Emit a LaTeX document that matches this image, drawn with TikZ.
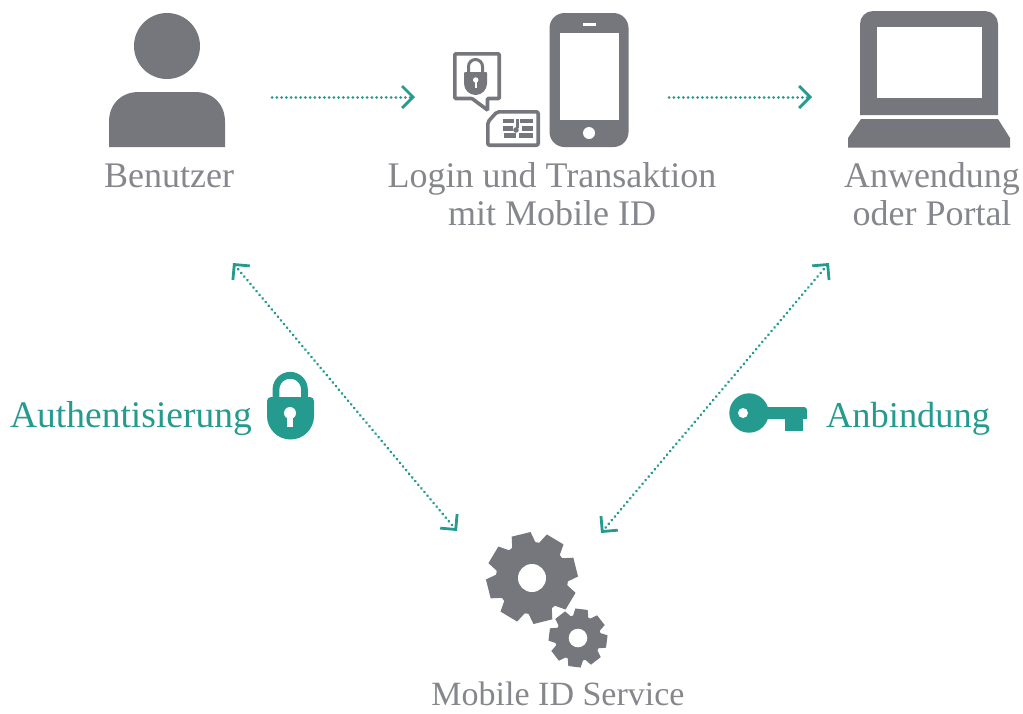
\documentclass[tikz,border=0pt]{standalone}
\usepackage{fontspec}
\setmainfont{Liberation Serif}
\usetikzlibrary{arrows.meta}
\definecolor{icongray}{HTML}{75777C}
\definecolor{textgray}{HTML}{85878C}
\definecolor{tealgreen}{HTML}{259A8E}
\tikzset{
  caption/.style={text=textgray, font=\fontsize{36}{38}\selectfont, inner sep=0pt, align=center},
  tealcaption/.style={text=tealgreen, font=\fontsize{37.5}{38}\selectfont, inner sep=0pt},
  dotline/.style={tealgreen, line width=3pt, line cap=round, dash pattern=on 0.01pt off 4.75pt},
  onearrow/.style={dotline, -{Straight Barb[length=11pt,width=22pt,line width=2.8pt,line cap=butt]}},
  bothways/.style={dotline, {Straight Barb[length=11pt,width=22pt,line width=2.8pt,line cap=butt]}-{Straight Barb[length=11pt,width=22pt,line width=2.8pt,line cap=butt]}},
  pics/gearwheel/.style n args={4}{code={
    \fill[icongray] (0,0) circle (#2);
    \foreach \ang in {0,45,...,315}
      \fill[icongray, rotate=\ang+#1] (0.9*#2,-0.34*#2) -- (#3,-0.27*#2) -- (#3,0.27*#2) -- (0.9*#2,0.34*#2) -- cycle;
    \fill[white] (0,0) circle (#4);
  }}
}
\begin{document}
\begin{tikzpicture}[x=1pt,y=-1pt]
  \useasboundingbox (0,0) rectangle (1023,713);
  % user
  \fill[icongray] (167,46) circle (33);
  \fill[icongray] (109,147) -- (109,122) .. controls (109,104) and (121,92) .. (139,92) -- (195,92) .. controls (213,92) and (225,104) .. (225,122) -- (225,147) -- cycle;
  \node[caption, anchor=base] (user) at (169,187) {Benutzer};
  % phone
  \fill[icongray, rounded corners=15pt] (549.5,13) rectangle (628.5,147);
  \fill[white] (560,33) rectangle (619,120);
  \fill[white] (583,23) rectangle (596,26);
  \fill[white] (589,133) circle (6);
  % speech bubble
  \draw[icongray, line width=3.6pt, rounded corners=1pt] (454.8,53.8) -- (499.2,53.8) -- (499.2,98.5) -- (487.5,98.5) -- (487.5,110) -- (472,98.5) -- (454.8,98.5) -- cycle;
  \draw[icongray, line width=3pt] (468.5,73) -- (468.5,66.5) arc (180:360:7) -- (482.5,73);
  \fill[icongray] (464,83.5) [rounded corners=1pt] -- (464,72) -- (487,72) [sharp corners] -- (487,83.5) arc (0:180:11.5) -- cycle;
  \fill[white] (475.7,80) circle (2.7);
  \fill[white] (474.7,80) rectangle (476.7,88);
  % sim card
  \draw[icongray, line width=3.6pt, rounded corners=2pt] (497,111.8) -- (538.2,111.8) -- (538.2,145.2) -- (487.8,145.2) -- (487.8,122) -- cycle;
  \foreach \xa/\ya/\xb/\yb in {503/118.5/514/123, 503/125.7/513/131, 504/133/516/138, 520/118.5/533/123, 522/125.7/533/131, 519/133/533/138}
    \fill[icongray] (\xa,\ya) rectangle (\xb,\yb);
  \fill[icongray] (516,118.5) rectangle (518.5,128);
  \fill[icongray] (516,130) circle (2.8);
  \node[caption] (login) at (552,194.5) {Login und Transaktion\\mit Mobile ID};
  % laptop
  \fill[icongray] (860,115) [rounded corners=13pt] -- (860,11) -- (998,11) [sharp corners] -- (998,115) -- cycle;
  \fill[icongray] (861,119) -- (998,119) -- (1010,138) -- (1010,147.5) -- (848,147.5) -- (848,138) -- cycle;
  \fill[white] (877,27) rectangle (982,98);
  \node[caption] (portal) at (932,194.5) {Anwendung\\oder Portal};
  % gears
  \pic at (532,578) {gearwheel={14}{36}{45}{14}};
  \pic at (578,638) {gearwheel={-7}{23}{29}{9.3}};
  \node[caption, anchor=base, font=\fontsize{34}{38}\selectfont] (service) at (558,705) {Mobile ID Service};
  % lock
  \draw[tealgreen, line width=6.8pt] (276,400) -- (276,389.5) arc (180:360:14.2) -- (304.4,400);
  \fill[tealgreen] (267,416) [rounded corners=4pt] -- (267,397) -- (314,397) [sharp corners] -- (314,416) arc (0:180:23.5) -- cycle;
  \fill[white] (290,413) circle (6);
  \fill[white] (287,413) rectangle (293,427);
  \node[tealcaption, anchor=base east] (auth) at (252,427) {Authentisierung};
  % key
  \fill[tealgreen] (749,413) circle (19.7);
  \fill[tealgreen] (760,419) -- (760,407) [rounded corners=3pt] -- (807,407) [sharp corners] -- (807,419) -- cycle;
  \fill[tealgreen] (785,415) rectangle (803,431);
  \fill[white] (743,413) circle (5);
  \node[tealcaption, anchor=base west, font=\fontsize{36.4}{38}\selectfont] (bind) at (826,427) {Anbindung};
  % connectors
  \coordinate (c1) at (272,97);
  \coordinate (c2) at (415,97);
  \coordinate (c3) at (669,97);
  \coordinate (c4) at (812,97);
  \coordinate (c5) at (233,263);
  \coordinate (c6) at (457,531);
  \coordinate (c7) at (829,263);
  \coordinate (c8) at (601,533);
  \draw[onearrow] (c1) -- (c2);
  \draw[onearrow] (c3) -- (c4);
  \draw[bothways] (c5) -- (c6);
  \draw[bothways] (c7) -- (c8);
\end{tikzpicture}
\end{document}
